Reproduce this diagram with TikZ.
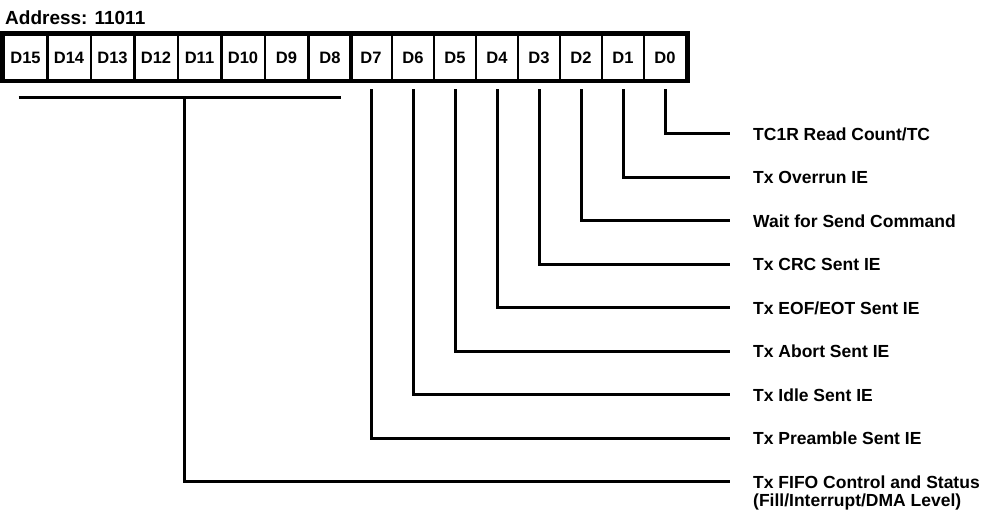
\documentclass[tikz,border=0pt]{standalone}
\usepackage{fontspec}
\setmainfont{Liberation Sans}
\usetikzlibrary{positioning,calc}

\begin{document}
\begin{tikzpicture}[x=1pt,y=-1pt,
    bitcell/.style={draw,line width=2.5pt,minimum height=45pt,inner sep=0pt,
      font=\bfseries\fontsize{16.5}{16.5}\selectfont},
    field/.style={anchor=west,inner sep=0pt,font=\bfseries\fontsize{17.5}{20}\selectfont},
    tap/.style={line width=3pt,shorten <=8pt,shorten >=23pt}]
  \useasboundingbox (0,0) rectangle (989,518);
  \node[anchor=base west,inner sep=0pt,font=\bfseries\fontsize{19}{20}\selectfont] (addr) at (5,25) {Address: 11011};
  \foreach \i in {0,...,7}
    \node[bitcell,minimum width=42pt] (d\i) at ({665-42*\i},57.5) {D\i};
  \foreach \i in {8,...,15}
    \node[bitcell,minimum width=43.5pt] (d\i) at ({330-43.5*(\i-8)},57.5) {D\i};
  \draw[line width=4.5pt] (d15.north west) rectangle (d0.south east);
  \foreach \i/\txt in {0/{TC1R Read Count/TC},1/{Tx Overrun IE},2/{Wait for Send Command},
      3/{Tx CRC Sent IE},4/{Tx EOF/EOT Sent IE},5/{Tx Abort Sent IE},6/{Tx Idle Sent IE},
      7/{Tx Preamble Sent IE},8/{Tx FIFO Control and Status}}
    \node[field] (l\i) at (753,{134+43.5*\i}) {\txt};
  \node[field,below=5pt of l8.south west,anchor=north west] (l8x) {(Fill/Interrupt/DMA Level)};
  \foreach \i in {0,...,7}
    \draw[tap] (d\i.south) |- (l\i.west);
  \coordinate (bus) at ($(d15.south west)!0.5!(d8.south east)+(7,16)$);
  \draw[line width=3pt] ($(d15.south west)+(16,16)$) -- ($(d8.south east)+(-12,16)$);
  \draw[tap,shorten <=0pt] (bus) |- (l8.west);
\end{tikzpicture}
\end{document}
